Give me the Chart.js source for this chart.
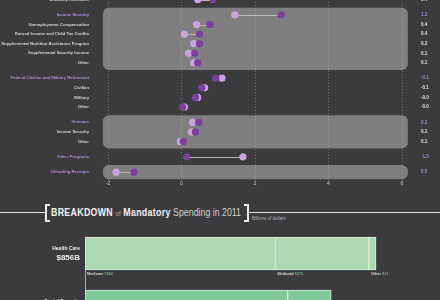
<!DOCTYPE html>
<html>
<head>
<meta charset="utf-8">
<script src="https://cdn.jsdelivr.net/npm/chart.js@4.4.0/dist/chart.umd.min.js"></script>
<style>
  html, body { margin: 0; padding: 0; }
  body {
    width: 440px; height: 300px; overflow: hidden; position: relative;
    background: #3b3a3c;
    font-family: "Liberation Sans", sans-serif;
  }
  #change-wrap { position: absolute; left: 0; top: -29px; width: 440px; height: 223px; }
  #breakdown-wrap { position: absolute; left: 0; top: 227px; width: 440px; height: 106px; }
  .rule { position: absolute; height: 0; border-top: 1px solid #e4e4e4; top: 212px; }
  .brk { position: absolute; top: 204px; height: 14px; border: 2px solid #eeeeee; }
  .brk--l { left: 45px; width: 3px; border-right: none; }
  .brk--r { left: 244px; width: 3px; border-left: none; }
  .title {
    position: absolute; left: 51px; top: 205px; white-space: nowrap;
    font-size: 11px; line-height: 14px; color: #d0d0d0;
    transform: scaleX(0.8); transform-origin: 0 0;
  }
  .title b { color: #f4f4f4; letter-spacing: 0.4px; }
  .title .of { font-size: 8px; color: #a9a9a9; }
  .sub { position: absolute; left: 252px; top: 216px; font-size: 4.5px; color: #b0b0b0; white-space: nowrap; }
</style>
</head>
<body>

<div id="change-wrap"><canvas id="chart-change"></canvas></div>

<div class="rule" style="left:0;width:45px"></div>
<div class="brk brk--l"></div>
<div class="title"><b>BREAKDOWN</b> <span class="of">of</span> <b>Mandatory</b> Spending in 2011</div>
<div class="brk brk--r"></div>
<div class="rule" style="left:249px;width:191px"></div>
<div class="sub">Billions of dollars</div>

<div id="breakdown-wrap"><canvas id="chart-breakdown"></canvas></div>

<script>
// ── Data ─────────────────────────────────────────────────────────────────────

const rowLabels = [
  'Disability Insurance',
  'Income Security',
  'Unemployment Compensation',
  'Earned Income and Child Tax Credits',
  'Supplemental Nutrition Assistance Program',
  'Supplemental Security Income',
  'Other',
  'Federal Civilian and Military Retirement',
  'Civilian',
  'Military',
  'Other',
  'Veterans',
  'Income Security',
  'Other',
  'Other Programs',
  'Offsetting Receipts'
];
const rowGroup    = [0, 1, 1, 1, 1, 1, 1, 2, 2, 2, 2, 3, 3, 3, 4, 5];
const rowIsHeader = [false, true, false, false, false, false, false, true, false, false, false, true, false, false, true, true];
const valuesBefore = [0.44, 1.45, 0.41, 0.08, 0.33, 0.19, 0.33, 1.10, 0.63, 0.44, 0.08, 0.30, 0.27, -0.03, 1.67, -1.78];
const valuesAfter  = [0.85, 2.71, 0.77, 0.49, 0.49, 0.36, 0.44, 0.93, 0.55, 0.38, 0.03, 0.47, 0.38, 0.05, 0.14, -1.29];
const changeLabels = ['0.4', '1.2', '0.4', '0.4', '0.2', '0.1', '0.1', '-0.1', '-0.1', '-0.0', '-0.0', '0.2', '0.1', '0.1', '-1.5', '0.5'];
const xTicks = [-2, 0, 2, 4, 6];
const boxedGroups = [1, 3, 5];

const barCategories = ['Health Care', 'Social Security'];
const healthCareParts  = ['Medicare', 'Medicaid', 'Other'];
const healthCareValues = [560, 275, 21];
const socialSecurityParts  = ['Old-Age and Survivors Insurance', 'Disability Insurance'];
const socialSecurityValues = [596, 128];

// ── Styles ───────────────────────────────────────────────────────────────────

const FONT = '"Liberation Sans", sans-serif';
const C_LIGHT = '#caa3de';
const C_DARK = '#7b3f9c';
const C_HEADER = '#b38fd4';
const C_TEXT = '#d4d4d4';
const C_BOX = '#7f7f7f';

// Zeilenposition: Index + kleine Luecke je Gruppe
const rowPos = rowLabels.map((_, i) => i + rowGroup[i] * 0.6);

function setRowTicks(scale) {
  scale.ticks = rowPos.map(v => ({ value: v }));
}

// ── Change chart (dumbbells) ─────────────────────────────────────────────────

const groupBoxes = {
  id: 'groupBoxes',
  beforeDraw(chart) {
    const { ctx, scales: { x, y } } = chart;
    ctx.save();
    ctx.fillStyle = C_BOX;
    boxedGroups.forEach(g => {
      const idx = rowGroup.map((gr, i) => (gr === g ? i : -1)).filter(i => i >= 0);
      const top = y.getPixelForValue(rowPos[idx[0]] - 0.74);
      const bottom = y.getPixelForValue(rowPos[idx[idx.length - 1]] + 0.74);
      const left = x.getPixelForValue(-2.14);
      const right = x.getPixelForValue(6.16);
      ctx.beginPath();
      ctx.roundRect(left, top, right - left, bottom - top, 6);
      ctx.fill();
    });
    ctx.restore();
  }
};

const connectors = {
  id: 'connectors',
  beforeDatasetsDraw(chart) {
    const { ctx, scales: { x, y } } = chart;
    ctx.save();
    ctx.strokeStyle = '#b9b9b9';
    ctx.lineWidth = 1;
    rowPos.forEach((p, i) => {
      const yy = Math.round(y.getPixelForValue(p)) + 0.5;
      ctx.beginPath();
      ctx.moveTo(x.getPixelForValue(valuesBefore[i]), yy);
      ctx.lineTo(x.getPixelForValue(valuesAfter[i]), yy);
      ctx.stroke();
    });
    ctx.restore();
  }
};

new Chart(document.getElementById('chart-change'), {
  type: 'scatter',
  data: {
    datasets: [
      {
        label: '2011',
        data: valuesAfter.map((v, i) => ({ x: v, y: rowPos[i] })),
        backgroundColor: C_DARK,
        borderWidth: 0,
        pointRadius: 3.6
      },
      {
        label: 'before',
        data: valuesBefore.map((v, i) => ({ x: v, y: rowPos[i] })),
        backgroundColor: C_LIGHT,
        borderWidth: 0,
        pointRadius: 3.6
      }
    ]
  },
  options: {
    responsive: true,
    maintainAspectRatio: false,
    animation: false,
    layout: { padding: { top: 19, bottom: 0, left: 0, right: 0 } },
    plugins: { legend: { display: false }, tooltip: { enabled: false } },
    scales: {
      x: {
        type: 'linear', min: -2, max: 6,
        afterBuildTicks: s => { s.ticks = xTicks.map(v => ({ value: v })); },
        grid: { color: 'rgba(210,210,210,0.35)', lineWidth: 1, drawTicks: false },
        border: { display: false, dash: [1, 2] },
        ticks: { color: '#cfcfcf', padding: 0, font: { family: FONT, size: 5 } }
      },
      y: {
        type: 'linear', reverse: true, min: -1, max: 18.84, position: 'left',
        afterBuildTicks: setRowTicks,
        afterFit: s => { s.width = 108; },
        grid: { display: false },
        border: { display: false },
        ticks: {
          autoSkip: false, padding: 11,
          callback: (v, i) => rowLabels[i],
          color: c => (rowIsHeader[c.index] ? C_HEADER : C_TEXT),
          font: { family: FONT, size: 4.2, weight: 'bold' }
        }
      },
      y2: {
        type: 'linear', reverse: true, min: -1, max: 18.84, position: 'right',
        afterBuildTicks: setRowTicks,
        afterFit: s => { s.width = 38; },
        grid: { display: false },
        border: { display: false },
        ticks: {
          autoSkip: false, padding: 11,
          callback: (v, i) => changeLabels[i],
          color: c => (rowIsHeader[c.index] ? '#a48bc8' : '#e8e8e8'),
          font: { family: FONT, size: 4.6, weight: 'bold' }
        }
      }
    }
  },
  plugins: [groupBoxes, connectors]
});

// ── Breakdown chart (stacked bars) ───────────────────────────────────────────

const partNames = [healthCareParts, socialSecurityParts];
const partValues = [healthCareValues, socialSecurityValues];
const nParts = Math.max(healthCareValues.length, socialSecurityValues.length);

const breakdownDatasets = [];
for (let k = 0; k < nParts; k++) {
  breakdownDatasets.push({
    label: 'part ' + (k + 1),
    data: partValues.map(vals => (vals[k] !== undefined ? vals[k] : null)),
    backgroundColor: ['#aad9b2', '#7fc898'],
    borderColor: '#dcefdf',
    borderWidth: 1,
    borderSkipped: false,
    barThickness: 33,
    stack: 'total'
  });
}

const barLabels = {
  id: 'barLabels',
  afterDatasetsDraw(chart) {
    const { ctx, chartArea } = chart;
    ctx.save();
    barCategories.forEach((cat, i) => {
      const first = chart.getDatasetMeta(0).data[i];
      const cy = first.y;
      const half = first.height / 2;
      const total = partValues[i].reduce((a, b) => a + b, 0);

      ctx.textAlign = 'right';
      ctx.textBaseline = 'middle';
      ctx.fillStyle = '#eeeeee';
      ctx.font = `bold 5px ${FONT}`;
      ctx.fillText(cat, chartArea.left - 5, cy - 4.7);
      ctx.font = `bold 8px ${FONT}`;
      ctx.fillText('$' + total + 'B', chartArea.left - 5, cy + 4.3);

      // Teil-Beschriftungen unter dem Balken
      ctx.textAlign = 'left';
      ctx.font = `bold 3.8px ${FONT}`;
      partNames[i].forEach((name, k) => {
        const el = chart.getDatasetMeta(k).data[i];
        if (!el || partValues[i][k] === undefined) return;
        const lx = Math.min(el.base, el.x) + 2;
        const ly = cy + half + 3.5;
        ctx.fillStyle = '#d8d8d8';
        ctx.fillText(name, lx, ly);
        const w = ctx.measureText(name + ' ').width;
        ctx.fillStyle = '#62b27c';
        ctx.fillText('$' + partValues[i][k], lx + w, ly);
      });
    });

    // Achsenlinie zwischen den Balken
    const a = chart.getDatasetMeta(0).data[0];
    const b = chart.getDatasetMeta(0).data[1];
    ctx.strokeStyle = '#a9a9a9';
    ctx.lineWidth = 1;
    ctx.beginPath();
    ctx.moveTo(chartArea.left + 0.5, a.y + a.height / 2);
    ctx.lineTo(chartArea.left + 0.5, b.y - b.height / 2);
    ctx.stroke();
    ctx.restore();
  }
};

new Chart(document.getElementById('chart-breakdown'), {
  type: 'bar',
  data: { labels: barCategories, datasets: breakdownDatasets },
  options: {
    indexAxis: 'y',
    responsive: true,
    maintainAspectRatio: false,
    animation: false,
    layout: { padding: { left: 85, right: 15, top: 0, bottom: 0 } },
    plugins: { legend: { display: false }, tooltip: { enabled: false } },
    scales: {
      x: { stacked: true, min: 0, max: 1000, display: false },
      y: { stacked: true, display: false }
    }
  },
  plugins: [barLabels]
});
</script>
</body>
</html>
